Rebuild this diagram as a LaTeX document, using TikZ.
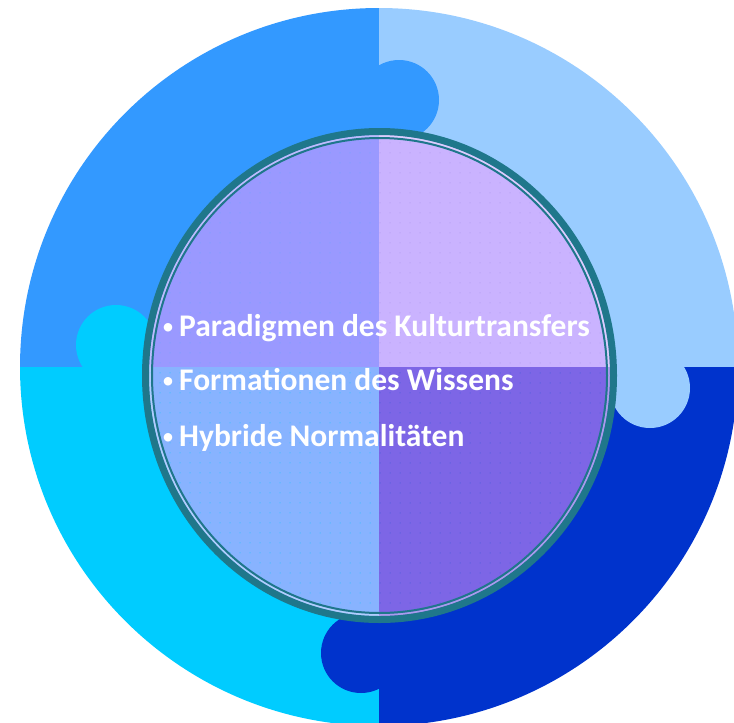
\documentclass[tikz,border=0pt]{standalone}
\usepackage{fontspec}
\setmainfont{Carlito}
\usetikzlibrary{patterns.meta}
\definecolor{ringTL}{HTML}{3399FF}
\definecolor{ringTR}{HTML}{99CCFF}
\definecolor{ringBR}{HTML}{0033CC}
\definecolor{ringBL}{HTML}{00CCFF}
\definecolor{inTL}{HTML}{9A99FF}
\definecolor{inTR}{HTML}{CAB3FF}
\definecolor{inBL}{HTML}{88B3FF}
\definecolor{inBR}{HTML}{7D66E6}
\definecolor{rim}{HTML}{1F778B}
\newcommand{\bul}{\makebox[17pt][l]{\fontsize{24}{24}\mdseries\raisebox{2pt}{•}}}
\tikzset{
  bullettext/.style={anchor=base west, text=white, inner sep=0pt,
    font=\fontsize{31.5}{36}\selectfont\bfseries},
  dotgrid/.style={pattern={Dots[distance=10pt,radius=0.5pt]}, pattern color=#1}
}
\begin{document}
\begin{tikzpicture}[x=1pt,y=-1pt]
\useasboundingbox (0,0) rectangle (734,723);
\clip (0,0) rectangle (734,723);
\coordinate (c) at (379,367);
\coordinate (e) at (379.5,375.5);
% outer puzzle ring
\begin{scope}
  \clip (c) circle [radius=359pt];
  \fill[ringTL] (0,0) rectangle (c);
  \fill[ringTR] (379,0) rectangle (760,367);
  \fill[ringBR] (c) rectangle (760,760);
  \fill[ringBL] (0,367) rectangle (379,760);
\end{scope}
% tabs
\fill[ringTL] (399,100) circle [radius=40pt];
\fill[ringTR] (650,388) circle [radius=40pt];
\fill[ringBR] (361,653) circle [radius=40pt];
\fill[ringBL] (116,345) circle [radius=40pt];
% inner disc
\begin{scope}
  \clip (e) ellipse [x radius=231pt, y radius=241pt];
  \fill[inTL] (0,0) rectangle (c);
  \fill[inTR] (379,0) rectangle (760,367);
  \fill[inBR] (c) rectangle (760,760);
  \fill[inBL] (0,367) rectangle (379,760);
  \fill[dotgrid=ringTL!80!white] (0,0) rectangle (c);
  \fill[dotgrid=inBR!70!white] (379,0) rectangle (760,367);
  \fill[dotgrid=ringBR!80!white] (c) rectangle (760,760);
  \fill[dotgrid=ringBL] (0,367) rectangle (379,760);
\end{scope}
\draw[white, opacity=0.35, line width=2pt] (e) ellipse [x radius=229.5pt, y radius=239.5pt];
\draw[rim, line width=2pt] (e) ellipse [x radius=227.5pt, y radius=237.5pt];
\draw[rim, line width=7pt] (e) ellipse [x radius=234pt, y radius=244pt];
% text
\node[bullettext] (t1) at (162,336) {\bul Paradigmen des Kulturtransfers};
\node[bullettext] (t2) at (162,390) {\bul Formationen des Wissens};
\node[bullettext] (t3) at (162,446) {\bul Hybride Normalitäten};
\end{tikzpicture}
\end{document}
